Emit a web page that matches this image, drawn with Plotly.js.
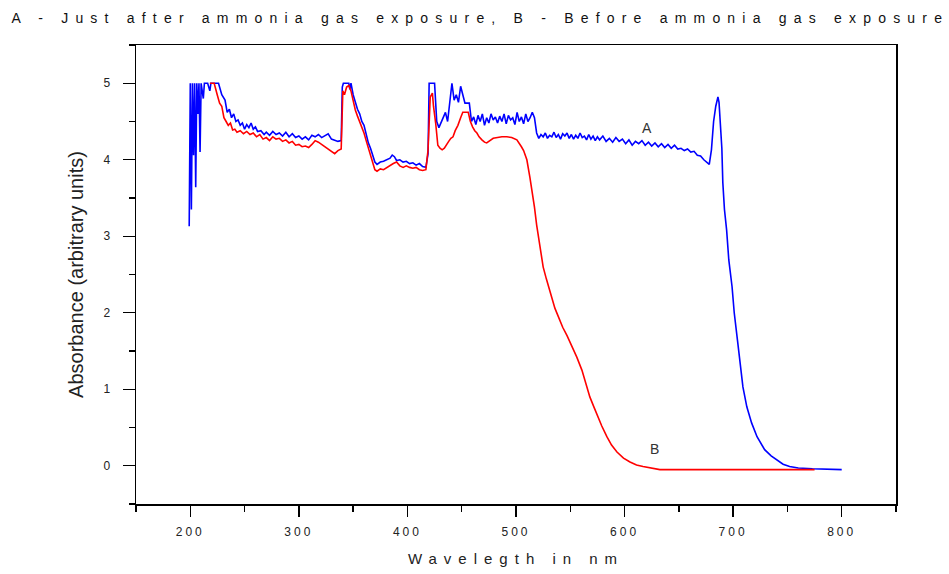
<!DOCTYPE html>
<html>
<head>
<meta charset="utf-8">
<script src="https://cdn.plot.ly/plotly-3.0.1.min.js"></script>
<style>
  html, body { margin: 0; padding: 0; background: #fff; }
  .gtitle { letter-spacing: 7.2px; }
  .xtitle { letter-spacing: 7px; }
  .xtick text { letter-spacing: 3px; }
</style>
</head>
<body>
<div id="chart" style="width:949px;height:574px;"></div>
<script>
// Series A: just after ammonia gas exposure (blue)
const waveA = [199,200,201,202,203,204,205,206,207,208,209,210,212,213,216,218,219,226,229,232,234,236,238,240,242,244,246,248,250,252,254,256,258,260,262,265,268,270,273,276,279,282,285,288,291,294,297,300,303,306,309,312,315,318,321,324,327,330,333,336,339,340,341,346,347,348,350,352,354,356,358,360,362,364,366,368,370,372,375,378,381,384,386,388,390,393,396,399,402,405,408,411,414,417,419,420,425,427,429,431,433,435,437,439,441,443,445,447,449,451,453,457,459,461,463,465,467,469,471,473,475,477,479,481,483,485,487,489,491,493,495,497,499,501,503,505,507,509,511,513,515,517,519,521,523,525,527,529,531,533,535,537,539,541,543,545,547,549,551,553,555,557,559,561,563,565,567,569,571,573,575,577,580,583,586,589,592,595,598,601,604,607,610,613,616,619,622,625,628,631,634,637,640,643,646,649,652,655,658,661,664,667,670,673,676,678,680,682,684,686,687,688,689.6,690.5,692,694,696,699,701,704,707,709,712.6,717,722,729,735,740,746,752,760,773,790,800];
const absA  = [3.13,5.0,3.35,5.0,4.06,5.0,3.64,5.0,4.6,5.0,4.1,5.0,4.8,5.0,5.0,4.9,5.0,5.0,4.85,4.78,4.62,4.66,4.55,4.6,4.5,4.52,4.45,4.48,4.4,4.46,4.42,4.48,4.4,4.43,4.37,4.38,4.33,4.36,4.32,4.37,4.33,4.35,4.31,4.36,4.3,4.34,4.29,4.31,4.27,4.3,4.26,4.32,4.3,4.33,4.29,4.31,4.34,4.27,4.25,4.24,4.25,4.95,5.0,5.0,4.92,5.0,4.85,4.75,4.66,4.6,4.5,4.45,4.32,4.22,4.15,4.05,3.97,3.94,3.97,3.98,4.0,4.02,4.06,4.04,3.99,4.0,3.97,3.98,3.95,3.96,3.93,3.95,3.91,3.9,4.08,5.0,5.0,4.5,4.42,4.48,4.55,4.62,4.5,4.72,5.0,4.78,4.85,4.75,4.96,4.85,4.74,4.74,4.5,4.56,4.46,4.58,4.5,4.6,4.45,4.55,4.48,4.6,4.52,4.56,4.48,4.57,4.5,4.6,4.47,4.58,4.52,4.55,4.46,4.62,4.5,4.56,4.47,4.6,4.5,4.55,4.62,4.55,4.35,4.28,4.33,4.3,4.35,4.28,4.32,4.3,4.36,4.29,4.33,4.27,4.34,4.31,4.35,4.28,4.33,4.27,4.32,4.28,4.35,4.29,4.31,4.26,4.33,4.27,4.31,4.25,4.3,4.26,4.31,4.24,4.28,4.23,4.29,4.24,4.27,4.21,4.26,4.19,4.24,4.21,4.25,4.19,4.23,4.18,4.22,4.17,4.21,4.16,4.2,4.15,4.19,4.14,4.15,4.12,4.14,4.1,4.11,4.06,4.05,4.0,3.97,3.94,4.13,4.5,4.7,4.82,4.75,4.55,4.15,3.7,3.35,3.08,2.69,2.34,2.0,1.64,1.29,1.03,0.77,0.56,0.38,0.21,0.13,0.08,0.02,-0.01,-0.03,-0.04,-0.05,-0.05];

// Series B: before ammonia gas exposure (red)
const waveB = [218,222,225,227,229,231,233,235,237,239,241,243,246,249,252,255,258,261,264,267,270,273,276,279,282,285,288,291,294,297,300,303,306,309,312,315,318,321,324,327,330,333,336,339,340.5,342,344,346,348,350,352,354,356,358,360,362,364,366,368,370,372,375,378,381,384,387,390,393,396,399,402,405,408,411,414,417,419,421,423,424,426,428,430,432,434,436,438,440,442,444,446.5,449,451,456,458,460,462,464,466,468.6,471,473,476,479,483,487,491.6,496,500.8,503,505,507,510,512.8,515,517,519,521,523,525,528,531,535.8,539,543,547,552,556,560.7,564,568,572,575.4,579,583.7,588,593,599,605,611,617,625,632.5,775];
const absB  = [5.0,5.0,4.84,4.74,4.7,4.55,4.5,4.45,4.48,4.39,4.4,4.36,4.38,4.34,4.37,4.33,4.35,4.3,4.33,4.27,4.29,4.25,4.3,4.27,4.28,4.24,4.26,4.22,4.24,4.19,4.2,4.17,4.18,4.16,4.2,4.25,4.23,4.2,4.17,4.15,4.12,4.08,4.12,4.14,4.9,4.85,4.95,4.97,4.9,4.75,4.65,4.57,4.5,4.43,4.35,4.25,4.15,4.05,3.95,3.87,3.85,3.88,3.87,3.9,3.92,3.95,3.97,3.92,3.9,3.92,3.9,3.89,3.9,3.87,3.86,3.87,4.13,4.82,4.87,4.7,4.48,4.19,4.15,4.13,4.15,4.2,4.24,4.28,4.3,4.38,4.45,4.55,4.62,4.62,4.5,4.43,4.38,4.35,4.3,4.26,4.23,4.22,4.25,4.28,4.29,4.3,4.3,4.29,4.26,4.22,4.17,4.12,4.0,3.77,3.58,3.38,3.15,2.95,2.78,2.6,2.44,2.3,2.06,1.95,1.81,1.7,1.55,1.42,1.25,1.09,0.9,0.76,0.64,0.52,0.38,0.27,0.18,0.1,0.05,0.01,-0.01,-0.03,-0.05,-0.05];

const xTickVals = [200,300,400,500,600,700,800];
const yTickVals = [0,1,2,3,4,5];
const curveLabels = ['A','B'];
const labelX = [621, 628];
const labelY = [4.41, 0.22];

const titleText = 'A - Just after ammonia gas exposure, B - Before ammonia gas exposure';
const xTitle = 'Wavelegth in nm';
const yTitle = 'Absorbance (arbitrary units)';

const traces = [
  { x: waveA, y: absA, type: 'scatter', mode: 'lines', name: 'A',
    line: { color: '#0000ff', width: 1.6, shape: 'linear' } },
  { x: waveB, y: absB, type: 'scatter', mode: 'lines', name: 'B',
    line: { color: '#ff0000', width: 1.6, shape: 'linear' } }
];

const layout = {
  width: 949, height: 574,
  margin: { l: 136, r: 53, t: 45, b: 70 },
  paper_bgcolor: '#ffffff', plot_bgcolor: '#ffffff',
  showlegend: false,
  font: { family: 'Liberation Sans, Arial, sans-serif', color: '#222' },
  title: {
    text: titleText, x: 0.012, xanchor: 'left', xref: 'container',
    y: 1 - 18/574, yref: 'container', yanchor: 'middle',
    font: { size: 14, color: '#111', family: 'Liberation Sans, Arial, sans-serif' }
  },
  xaxis: {
    range: [150, 850], tickvals: xTickVals, ticktext: xTickVals.map(String),
    ticks: 'outside', ticklen: 11, tickwidth: 1.3, tickcolor: '#000',
    ticklabelstandoff: 5,
    showline: true, linecolor: '#000', linewidth: 1.5, mirror: true,
    showgrid: false, zeroline: false,
    tickfont: { size: 12, color: '#222' },
    minor: { dtick: 50, tick0: 150, ticks: 'outside', ticklen: 6, tickwidth: 1.3, tickcolor: '#000', showgrid: false },
    title: { text: xTitle, standoff: 15, font: { size: 15, color: '#222' } }
  },
  yaxis: {
    range: [-0.5, 5.5], tickvals: yTickVals, ticktext: yTickVals.map(String),
    ticks: 'outside', ticklen: 12, tickwidth: 1.3, tickcolor: '#000',
    ticklabelstandoff: 10,
    showline: true, linecolor: '#000', linewidth: 1.5, mirror: true,
    showgrid: false, zeroline: false,
    tickfont: { size: 12, color: '#222' },
    minor: { dtick: 0.5, tick0: -0.5, ticks: 'outside', ticklen: 6, tickwidth: 1.3, tickcolor: '#000', showgrid: false },
    title: { text: yTitle, standoff: 14, font: { size: 20, color: '#222' } }
  },
  annotations: curveLabels.map((t, i) => ({
    x: labelX[i], y: labelY[i], xref: 'x', yref: 'y', text: t, showarrow: false,
    font: { size: 14, color: '#333' }
  }))
};

Plotly.newPlot('chart', traces, layout, { displayModeBar: false, staticPlot: true });
</script>
</body>
</html>
